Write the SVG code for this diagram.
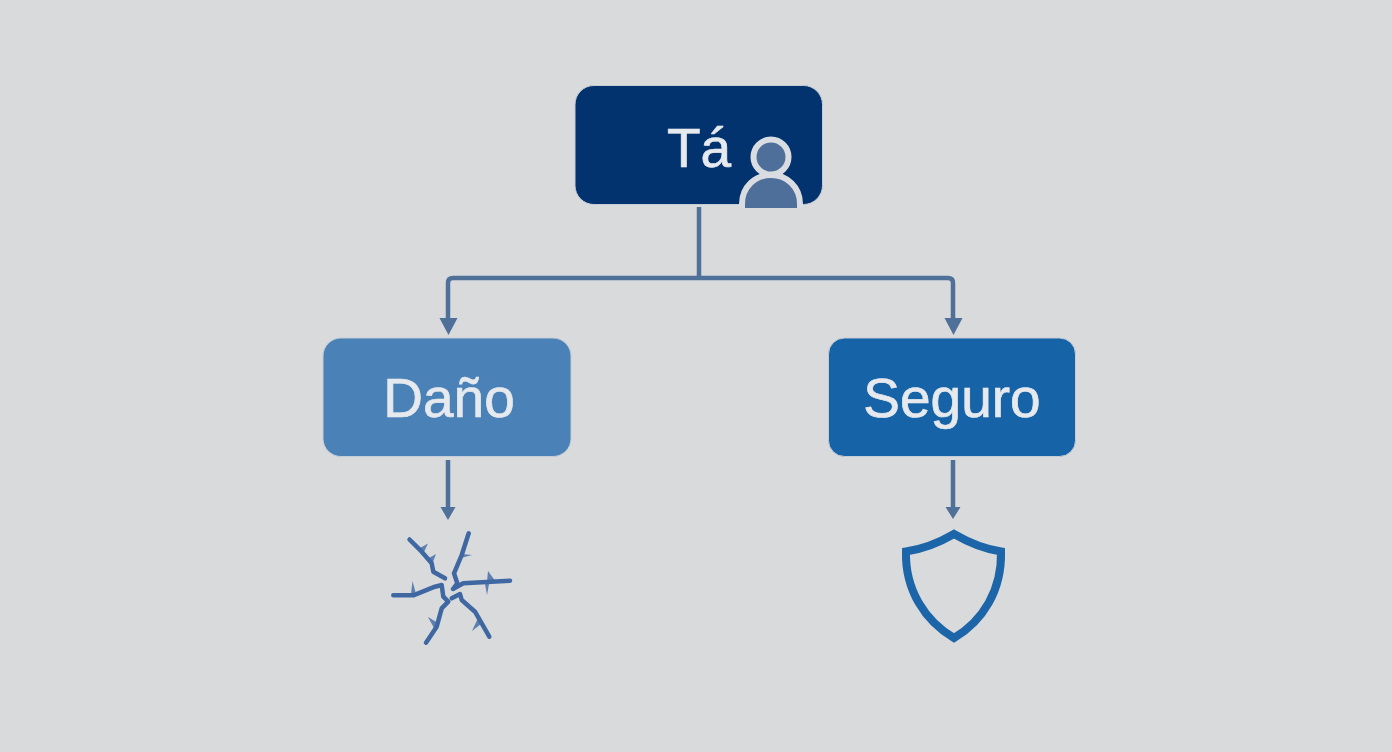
<svg xmlns="http://www.w3.org/2000/svg" width="1392" height="752" viewBox="0 0 1392 752">
<style>
.box{stroke:#c4ccd6;stroke-width:1}
.lbl{font-family:"Liberation Sans",Arial,sans-serif;font-size:55px;fill:#e6e9ed;stroke:#e6e9ed;stroke-width:.7;text-anchor:middle}
.line{fill:none;stroke:#4f7099;stroke-width:4.500;stroke-linejoin:round}
.head{fill:#4f7099}
.crack{fill:none;stroke:#3f68a3;stroke-width:4.500;stroke-linecap:round;stroke-linejoin:round}
.barb{fill:#5d80b0}
</style>
<rect width="1392" height="752" fill="#d9dadc"/>
<g id="connectors">
<path class="line" d="M699 207V278"/>
<path class="line" d="M953 320V283Q953 278 948 278H453Q448 278 448 283V320"/>
<path class="line" d="M448 460V510"/>
<path class="line" d="M953 460V510"/>
<path class="head" d="M439.500 318H457.500L448.500 335Z"/>
<path class="head" d="M944.500 318H962.500L953.500 335Z"/>
<path class="head" d="M440.500 507H455.500L448 520Z"/>
<path class="head" d="M945.500 507H960.500L953 519Z"/>
</g>
<g id="node-ta">
<rect class="box" x="575" y="85.500" width="247.500" height="119" rx="19" fill="#02336f"/>
<text class="lbl" x="699" y="167">Tá</text>
<circle cx="771" cy="157" r="17.500" fill="#4d6f9a" stroke="#d9dde2" stroke-width="6"/>
<path d="M742 208V204C742 187 755 175 771 175S800 187 800 204V208Z" fill="#4d6f9a"/>
<path d="M742 208V204C742 187 755 175 771 175S800 187 800 204V208" fill="none" stroke="#d9dde2" stroke-width="6"/>
</g>
<g id="node-dano">
<rect class="box" x="323" y="338" width="248" height="118.500" rx="18" fill="#4a82b8"/>
<text class="lbl" x="449" y="417">Daño</text>
</g>
<g id="node-seguro">
<rect class="box" x="828.500" y="338" width="247" height="118.500" rx="16" fill="#1763a8"/>
<text class="lbl" x="952" y="417">Seguro</text>
</g>
<g id="icon-crack">
<path class="barb" d="M420 548L428 543.500L424 552ZM429 558L436 554L433 562ZM462 554L472 555L461 558ZM488 571L496 582L487 582ZM485 584L489 584L487 595ZM411 594L412.500 581L416 594ZM428 617L438 623L434 628ZM472 631L478 618L481 624Z"/>
<path class="crack" d="M409.500 539.500L421.700 551.700L431.700 563.300L433.300 571.700L445 578.300"/>
<path class="crack" d="M468.700 533.300L461.700 555L454 573.300L457.300 583.300L453 589L463.300 583.300L510 580.700"/>
<path class="crack" d="M393.300 595.300L413.300 595.300L435 586.700L441.700 585L443.300 596.700L448.300 601.700L441.700 608.300L436.700 626.700L426 642.700"/>
<path class="crack" d="M451.700 598.300L460 594L461.700 600L475 611.700L489.300 636.700"/>
</g>
<g id="icon-shield">
<path d="M954 534Q930 548 906 551.500C905 590 925 621 954 638C983 621 1002 590 1001 551.500Q978 548 954 534Z" fill="none" stroke="#1b65a8" stroke-width="8" stroke-linejoin="miter"/>
</g>
</svg>
